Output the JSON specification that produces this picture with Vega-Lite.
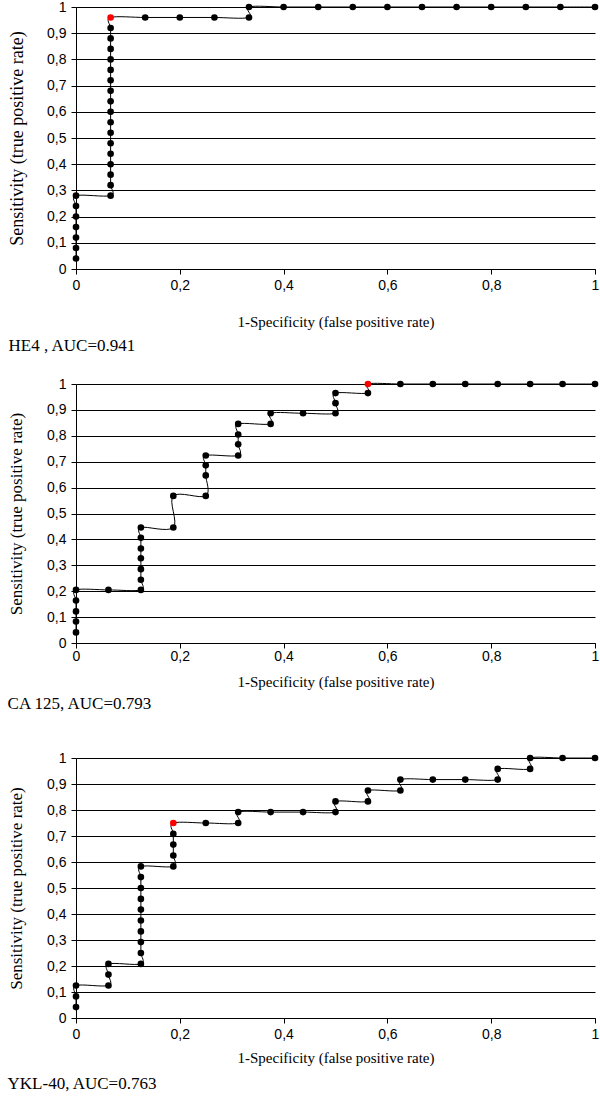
{
  "$schema": "https://vega.github.io/schema/vega-lite/v6.json",
  "background": "white",
  "padding": {"left": 7, "top": 0, "right": 4, "bottom": 0},
  "spacing": 115,
  "bounds": "flush",
  "config": {
    "view": {"stroke": null},
    "axis": {
      "labelFont": "Liberation Sans", "labelFontSize": 14, "labelColor": "#000",
      "titleFont": "Liberation Serif", "titleFontSize": 15, "titleFontWeight": "normal", "titleColor": "#000",
      "domainColor": "#000", "domainWidth": 1, "tickColor": "#000", "tickSize": 5,
      "gridColor": "#000", "gridOpacity": 1, "gridWidth": 1, "labelPadding": 5
    },
    "title": {"font": "Liberation Serif", "fontSize": 17, "fontWeight": "normal", "color": "#000", "orient": "bottom", "anchor": "start", "frame": "bounds"}
  },
  "vconcat": [
    {
      "width": 519, "height": 262,
      "title": {"text": "HE4 , AUC=0.941", "offset": 9},
      "data": {"values": [
        {"i": 1, "x": 0, "y": 0.04, "best": 0},
        {"i": 2, "x": 0, "y": 0.08, "best": 0},
        {"i": 3, "x": 0, "y": 0.12, "best": 0},
        {"i": 4, "x": 0, "y": 0.16, "best": 0},
        {"i": 5, "x": 0, "y": 0.20, "best": 0},
        {"i": 6, "x": 0, "y": 0.24, "best": 0},
        {"i": 7, "x": 0, "y": 0.28, "best": 0},
        {"i": 8, "x": 0.0667, "y": 0.28, "best": 0},
        {"i": 9, "x": 0.0667, "y": 0.32, "best": 0},
        {"i": 10, "x": 0.0667, "y": 0.36, "best": 0},
        {"i": 11, "x": 0.0667, "y": 0.40, "best": 0},
        {"i": 12, "x": 0.0667, "y": 0.44, "best": 0},
        {"i": 13, "x": 0.0667, "y": 0.48, "best": 0},
        {"i": 14, "x": 0.0667, "y": 0.52, "best": 0},
        {"i": 15, "x": 0.0667, "y": 0.56, "best": 0},
        {"i": 16, "x": 0.0667, "y": 0.60, "best": 0},
        {"i": 17, "x": 0.0667, "y": 0.64, "best": 0},
        {"i": 18, "x": 0.0667, "y": 0.68, "best": 0},
        {"i": 19, "x": 0.0667, "y": 0.72, "best": 0},
        {"i": 20, "x": 0.0667, "y": 0.76, "best": 0},
        {"i": 21, "x": 0.0667, "y": 0.80, "best": 0},
        {"i": 22, "x": 0.0667, "y": 0.84, "best": 0},
        {"i": 23, "x": 0.0667, "y": 0.88, "best": 0},
        {"i": 24, "x": 0.0667, "y": 0.92, "best": 0},
        {"i": 25, "x": 0.0667, "y": 0.96, "best": 1},
        {"i": 26, "x": 0.1333, "y": 0.96, "best": 0},
        {"i": 27, "x": 0.2, "y": 0.96, "best": 0},
        {"i": 28, "x": 0.2667, "y": 0.96, "best": 0},
        {"i": 29, "x": 0.3333, "y": 0.96, "best": 0},
        {"i": 30, "x": 0.3333, "y": 1, "best": 0},
        {"i": 31, "x": 0.4, "y": 1, "best": 0},
        {"i": 32, "x": 0.4667, "y": 1, "best": 0},
        {"i": 33, "x": 0.5333, "y": 1, "best": 0},
        {"i": 34, "x": 0.6, "y": 1, "best": 0},
        {"i": 35, "x": 0.6667, "y": 1, "best": 0},
        {"i": 36, "x": 0.7333, "y": 1, "best": 0},
        {"i": 37, "x": 0.8, "y": 1, "best": 0},
        {"i": 38, "x": 0.8667, "y": 1, "best": 0},
        {"i": 39, "x": 0.9333, "y": 1, "best": 0},
        {"i": 40, "x": 1, "y": 1, "best": 0}
      ]},
      "encoding": {
        "x": {"field": "x", "type": "quantitative", "scale": {"domain": [0, 1], "nice": false},
          "axis": {"values": [0, 0.2, 0.4, 0.6, 0.8, 1], "grid": false, "labelFlush": false, "labelPadding": 4, "titlePadding": 22,
            "labelExpr": "replace(format(datum.value, '.1~f'), '.', ',')", "title": "1-Specificity (false positive rate)"}},
        "y": {"field": "y", "type": "quantitative", "scale": {"domain": [0, 1], "nice": false},
          "axis": {"values": [0, 0.1, 0.2, 0.3, 0.4, 0.5, 0.6, 0.7, 0.8, 0.9, 1], "grid": true, "titleFontSize": 18, "titlePadding": 20,
            "labelExpr": "replace(format(datum.value, '.1~f'), '.', ',')", "title": "Sensitivity (true  positive rate)"}}
      },
      "layer": [
        {"mark": {"type": "line", "interpolate": "cardinal", "color": "#000", "strokeWidth": 1}, "encoding": {"order": {"field": "i", "type": "quantitative"}}},
        {"mark": {"type": "point", "filled": true, "shape": "circle", "size": 44, "opacity": 1},
          "encoding": {"color": {"field": "best", "type": "nominal", "scale": {"domain": [0, 1], "range": ["#000000", "#ff0000"]}, "legend": null}}}
      ]
    },
    {
      "width": 519, "height": 259,
      "title": {"text": "CA 125, AUC=0.793", "offset": 7},
      "data": {"values": [
        {"i": 1, "x": 0, "y": 0.041, "best": 0},
        {"i": 2, "x": 0, "y": 0.083, "best": 0},
        {"i": 3, "x": 0, "y": 0.122, "best": 0},
        {"i": 4, "x": 0, "y": 0.164, "best": 0},
        {"i": 5, "x": 0, "y": 0.205, "best": 0},
        {"i": 6, "x": 0.0625, "y": 0.205, "best": 0},
        {"i": 7, "x": 0.125, "y": 0.205, "best": 0},
        {"i": 8, "x": 0.125, "y": 0.244, "best": 0},
        {"i": 9, "x": 0.125, "y": 0.285, "best": 0},
        {"i": 10, "x": 0.125, "y": 0.327, "best": 0},
        {"i": 11, "x": 0.125, "y": 0.365, "best": 0},
        {"i": 12, "x": 0.125, "y": 0.406, "best": 0},
        {"i": 13, "x": 0.125, "y": 0.446, "best": 0},
        {"i": 14, "x": 0.1875, "y": 0.446, "best": 0},
        {"i": 15, "x": 0.1875, "y": 0.568, "best": 0},
        {"i": 16, "x": 0.25, "y": 0.568, "best": 0},
        {"i": 17, "x": 0.25, "y": 0.647, "best": 0},
        {"i": 18, "x": 0.25, "y": 0.686, "best": 0},
        {"i": 19, "x": 0.25, "y": 0.724, "best": 0},
        {"i": 20, "x": 0.3125, "y": 0.724, "best": 0},
        {"i": 21, "x": 0.3125, "y": 0.767, "best": 0},
        {"i": 22, "x": 0.3125, "y": 0.805, "best": 0},
        {"i": 23, "x": 0.3125, "y": 0.846, "best": 0},
        {"i": 24, "x": 0.375, "y": 0.846, "best": 0},
        {"i": 25, "x": 0.375, "y": 0.887, "best": 0},
        {"i": 26, "x": 0.4375, "y": 0.887, "best": 0},
        {"i": 27, "x": 0.5, "y": 0.887, "best": 0},
        {"i": 28, "x": 0.5, "y": 0.926, "best": 0},
        {"i": 29, "x": 0.5, "y": 0.965, "best": 0},
        {"i": 30, "x": 0.5625, "y": 0.965, "best": 0},
        {"i": 31, "x": 0.5625, "y": 1, "best": 1},
        {"i": 32, "x": 0.625, "y": 1, "best": 0},
        {"i": 33, "x": 0.6875, "y": 1, "best": 0},
        {"i": 34, "x": 0.75, "y": 1, "best": 0},
        {"i": 35, "x": 0.8125, "y": 1, "best": 0},
        {"i": 36, "x": 0.875, "y": 1, "best": 0},
        {"i": 37, "x": 0.9375, "y": 1, "best": 0},
        {"i": 38, "x": 1, "y": 1, "best": 0}
      ]},
      "encoding": {
        "x": {"field": "x", "type": "quantitative", "scale": {"domain": [0, 1], "nice": false},
          "axis": {"values": [0, 0.2, 0.4, 0.6, 0.8, 1], "grid": false, "labelFlush": false, "labelPadding": 1, "titlePadding": 11,
            "labelExpr": "replace(format(datum.value, '.1~f'), '.', ',')", "title": "1-Specificity (false positive rate)"}},
        "y": {"field": "y", "type": "quantitative", "scale": {"domain": [0, 1], "nice": false},
          "axis": {"values": [0, 0.1, 0.2, 0.3, 0.4, 0.5, 0.6, 0.7, 0.8, 0.9, 1], "grid": true, "titleFontSize": 17, "titlePadding": 21,
            "labelExpr": "replace(format(datum.value, '.1~f'), '.', ',')", "title": "Sensitivity (true positive rate)"}}
      },
      "layer": [
        {"mark": {"type": "line", "interpolate": "cardinal", "color": "#000", "strokeWidth": 1}, "encoding": {"order": {"field": "i", "type": "quantitative"}}},
        {"mark": {"type": "point", "filled": true, "shape": "circle", "size": 44, "opacity": 1},
          "encoding": {"color": {"field": "best", "type": "nominal", "scale": {"domain": [0, 1], "range": ["#000000", "#ff0000"]}, "legend": null}}}
      ]
    },
    {
      "width": 519, "height": 260,
      "title": {"text": "YKL-40, AUC=0.763", "offset": 11},
      "data": {"values": [
        {"i": 1, "x": 0, "y": 0.042, "best": 0},
        {"i": 2, "x": 0, "y": 0.083, "best": 0},
        {"i": 3, "x": 0, "y": 0.125, "best": 0},
        {"i": 4, "x": 0.0625, "y": 0.125, "best": 0},
        {"i": 5, "x": 0.0625, "y": 0.167, "best": 0},
        {"i": 6, "x": 0.0625, "y": 0.208, "best": 0},
        {"i": 7, "x": 0.125, "y": 0.208, "best": 0},
        {"i": 8, "x": 0.125, "y": 0.25, "best": 0},
        {"i": 9, "x": 0.125, "y": 0.292, "best": 0},
        {"i": 10, "x": 0.125, "y": 0.333, "best": 0},
        {"i": 11, "x": 0.125, "y": 0.375, "best": 0},
        {"i": 12, "x": 0.125, "y": 0.417, "best": 0},
        {"i": 13, "x": 0.125, "y": 0.458, "best": 0},
        {"i": 14, "x": 0.125, "y": 0.5, "best": 0},
        {"i": 15, "x": 0.125, "y": 0.542, "best": 0},
        {"i": 16, "x": 0.125, "y": 0.583, "best": 0},
        {"i": 17, "x": 0.1875, "y": 0.583, "best": 0},
        {"i": 18, "x": 0.1875, "y": 0.625, "best": 0},
        {"i": 19, "x": 0.1875, "y": 0.667, "best": 0},
        {"i": 20, "x": 0.1875, "y": 0.708, "best": 0},
        {"i": 21, "x": 0.1875, "y": 0.75, "best": 1},
        {"i": 22, "x": 0.25, "y": 0.75, "best": 0},
        {"i": 23, "x": 0.3125, "y": 0.75, "best": 0},
        {"i": 24, "x": 0.3125, "y": 0.792, "best": 0},
        {"i": 25, "x": 0.375, "y": 0.792, "best": 0},
        {"i": 26, "x": 0.4375, "y": 0.792, "best": 0},
        {"i": 27, "x": 0.5, "y": 0.792, "best": 0},
        {"i": 28, "x": 0.5, "y": 0.833, "best": 0},
        {"i": 29, "x": 0.5625, "y": 0.833, "best": 0},
        {"i": 30, "x": 0.5625, "y": 0.875, "best": 0},
        {"i": 31, "x": 0.625, "y": 0.875, "best": 0},
        {"i": 32, "x": 0.625, "y": 0.917, "best": 0},
        {"i": 33, "x": 0.6875, "y": 0.917, "best": 0},
        {"i": 34, "x": 0.75, "y": 0.917, "best": 0},
        {"i": 35, "x": 0.8125, "y": 0.917, "best": 0},
        {"i": 36, "x": 0.8125, "y": 0.958, "best": 0},
        {"i": 37, "x": 0.875, "y": 0.958, "best": 0},
        {"i": 38, "x": 0.875, "y": 1, "best": 0},
        {"i": 39, "x": 0.9375, "y": 1, "best": 0},
        {"i": 40, "x": 1, "y": 1, "best": 0}
      ]},
      "encoding": {
        "x": {"field": "x", "type": "quantitative", "scale": {"domain": [0, 1], "nice": false},
          "axis": {"values": [0, 0.2, 0.4, 0.6, 0.8, 1], "grid": false, "labelFlush": false, "labelPadding": 4, "titlePadding": 9,
            "labelExpr": "replace(format(datum.value, '.1~f'), '.', ',')", "title": "1-Specificity (false positive rate)"}},
        "y": {"field": "y", "type": "quantitative", "scale": {"domain": [0, 1], "nice": false},
          "axis": {"values": [0, 0.1, 0.2, 0.3, 0.4, 0.5, 0.6, 0.7, 0.8, 0.9, 1], "grid": true, "titleFontSize": 17, "titlePadding": 21,
            "labelExpr": "replace(format(datum.value, '.1~f'), '.', ',')", "title": "Sensitivity (true positive rate)"}}
      },
      "layer": [
        {"mark": {"type": "line", "interpolate": "cardinal", "color": "#000", "strokeWidth": 1}, "encoding": {"order": {"field": "i", "type": "quantitative"}}},
        {"mark": {"type": "point", "filled": true, "shape": "circle", "size": 44, "opacity": 1},
          "encoding": {"color": {"field": "best", "type": "nominal", "scale": {"domain": [0, 1], "range": ["#000000", "#ff0000"]}, "legend": null}}}
      ]
    }
  ]
}
